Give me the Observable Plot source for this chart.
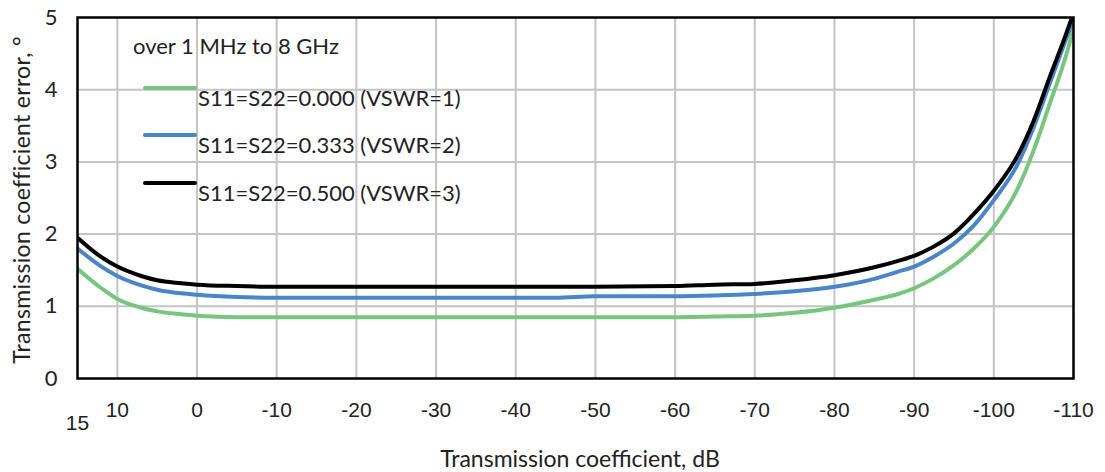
<!DOCTYPE html>
<html>
<head>
<meta charset="utf-8">
<script src="https://cdn.jsdelivr.net/npm/d3@7"></script>
<script src="https://cdn.jsdelivr.net/npm/@observablehq/plot@0.6"></script>
<style>
  body { margin: 0; background: #fff; }
  #wrap { position: relative; width: 1105px; height: 472px; font-family: "Lato", sans-serif; color: #222; }
  #wrap svg { position: absolute; left: 0; top: 0; }
  .ov { position: absolute; white-space: nowrap; line-height: 1; font-size: 20px; }
  .sw { position: absolute; height: 4px; border-radius: 2px; }
</style>
</head>
<body>
<div id="wrap"></div>
<script>
// Transmission coefficient, dB
const dB = [15, 12, 10, 7, 5, 2, 0, -5, -10, -30, -45, -50, -60, -65, -70, -75, -80, -85, -88, -90, -92.5, -95, -97.5, -100, -103, -105, -107, -109, -110];
// Transmission coefficient error, degrees
const errVswr1 = [1.52, 1.25, 1.10, 0.98, 0.93, 0.89, 0.87, 0.85, 0.85, 0.85, 0.85, 0.85, 0.85, 0.86, 0.87, 0.91, 0.98, 1.09, 1.17, 1.25, 1.39, 1.57, 1.80, 2.10, 2.63, 3.16, 3.80, 4.45, 4.84];
const errVswr2 = [1.80, 1.55, 1.42, 1.29, 1.23, 1.18, 1.16, 1.13, 1.12, 1.12, 1.12, 1.14, 1.14, 1.15, 1.17, 1.21, 1.27, 1.38, 1.48, 1.55, 1.69, 1.87, 2.12, 2.47, 2.97, 3.48, 4.08, 4.68, 4.98];
const errVswr3 = [1.95, 1.68, 1.55, 1.42, 1.36, 1.32, 1.30, 1.28, 1.27, 1.27, 1.27, 1.27, 1.28, 1.30, 1.31, 1.36, 1.43, 1.54, 1.63, 1.70, 1.83, 2.01, 2.28, 2.60, 3.09, 3.57, 4.17, 4.75, 5.06];
const seriesLabels = ["S11=S22=0.000 (VSWR=1)", "S11=S22=0.333 (VSWR=2)", "S11=S22=0.500 (VSWR=3)"];
const seriesColors = ["#77c57e", "#4a85c8", "#000000"];
const legendTitle = "over 1 MHz to 8 GHz";
const xTicks = [10, 0, -10, -20, -30, -40, -50, -60, -70, -80, -90, -100, -110];
const xFirstTick = [15];
const yTicks = [0, 1, 2, 3, 4, 5];
const xTitle = "Transmission coefficient, dB";
const yTitle = "Transmission coefficient error, °";

const seriesValues = [errVswr1, errVswr2, errVswr3];
const rows = seriesValues.flatMap((vals, i) => dB.map((x, j) => ({x, y: vals[j], s: seriesLabels[i]})));
const fmt = d => String(d);

const chart = Plot.plot({
  width: 1105,
  height: 472,
  marginLeft: 77,
  marginRight: 32,
  marginTop: 17,
  marginBottom: 94,
  style: {fontFamily: "Liberation Sans, Arial, sans-serif", background: "#fff", color: "#222"},
  x: {domain: [15, -110], axis: null},
  y: {domain: [0, 5], axis: null},
  color: {domain: seriesLabels, range: seriesColors},
  marks: [
    Plot.gridX(xTicks.slice(0, -1), {stroke: "#c4c4c4", strokeOpacity: 1, strokeWidth: 2}),
    Plot.gridY(yTicks.slice(1, -1), {stroke: "#c4c4c4", strokeOpacity: 1, strokeWidth: 2}),
    Plot.line(rows, {x: "x", y: "y", z: "s", stroke: "s", strokeWidth: 4, curve: "monotone-x", clip: true}),
    Plot.frame({stroke: "#000", strokeWidth: 2.5}),
    Plot.axisX(xTicks, {tickSize: 0, tickPadding: 24, fontSize: 21, fill: "#222", tickFormat: fmt, label: null}),
    Plot.axisX(xFirstTick, {tickSize: 0, tickPadding: 37, fontSize: 21, fill: "#222", tickFormat: fmt, label: null}),
    Plot.axisY(yTicks, {tickSize: 0, tickPadding: 20, fontSize: 22, fill: "#222", fontFamily: "Lato, sans-serif", tickFormat: fmt, label: null})
  ]
});

const wrap = document.getElementById("wrap");
wrap.appendChild(chart);

function addText(txt, style) {
  const d = document.createElement("div");
  d.className = "ov";
  d.textContent = txt;
  Object.assign(d.style, style);
  wrap.appendChild(d);
  return d;
}
// legend
addText(legendTitle, {left: "133px", top: "35px", fontSize: "22px"});
const lineYs = [88, 135, 183];
const textTops = [87, 134, 182];
seriesLabels.forEach((lab, i) => {
  const sw = document.createElement("div");
  sw.className = "sw";
  Object.assign(sw.style, {left: "143px", width: "54px", top: (lineYs[i] - 2) + "px", background: seriesColors[i]});
  wrap.appendChild(sw);
  addText(lab, {left: "198px", top: textTops[i] + "px", fontSize: "22px"});
});
// axis titles
addText(xTitle, {left: "580px", top: "447px", fontSize: "23px", transform: "translateX(-50%)"});
addText(yTitle, {left: "21px", top: "200px", fontSize: "23px", letterSpacing: "0.3px", transform: "translate(-50%, -50%) rotate(-90deg)"});
</script>
</body>
</html>
